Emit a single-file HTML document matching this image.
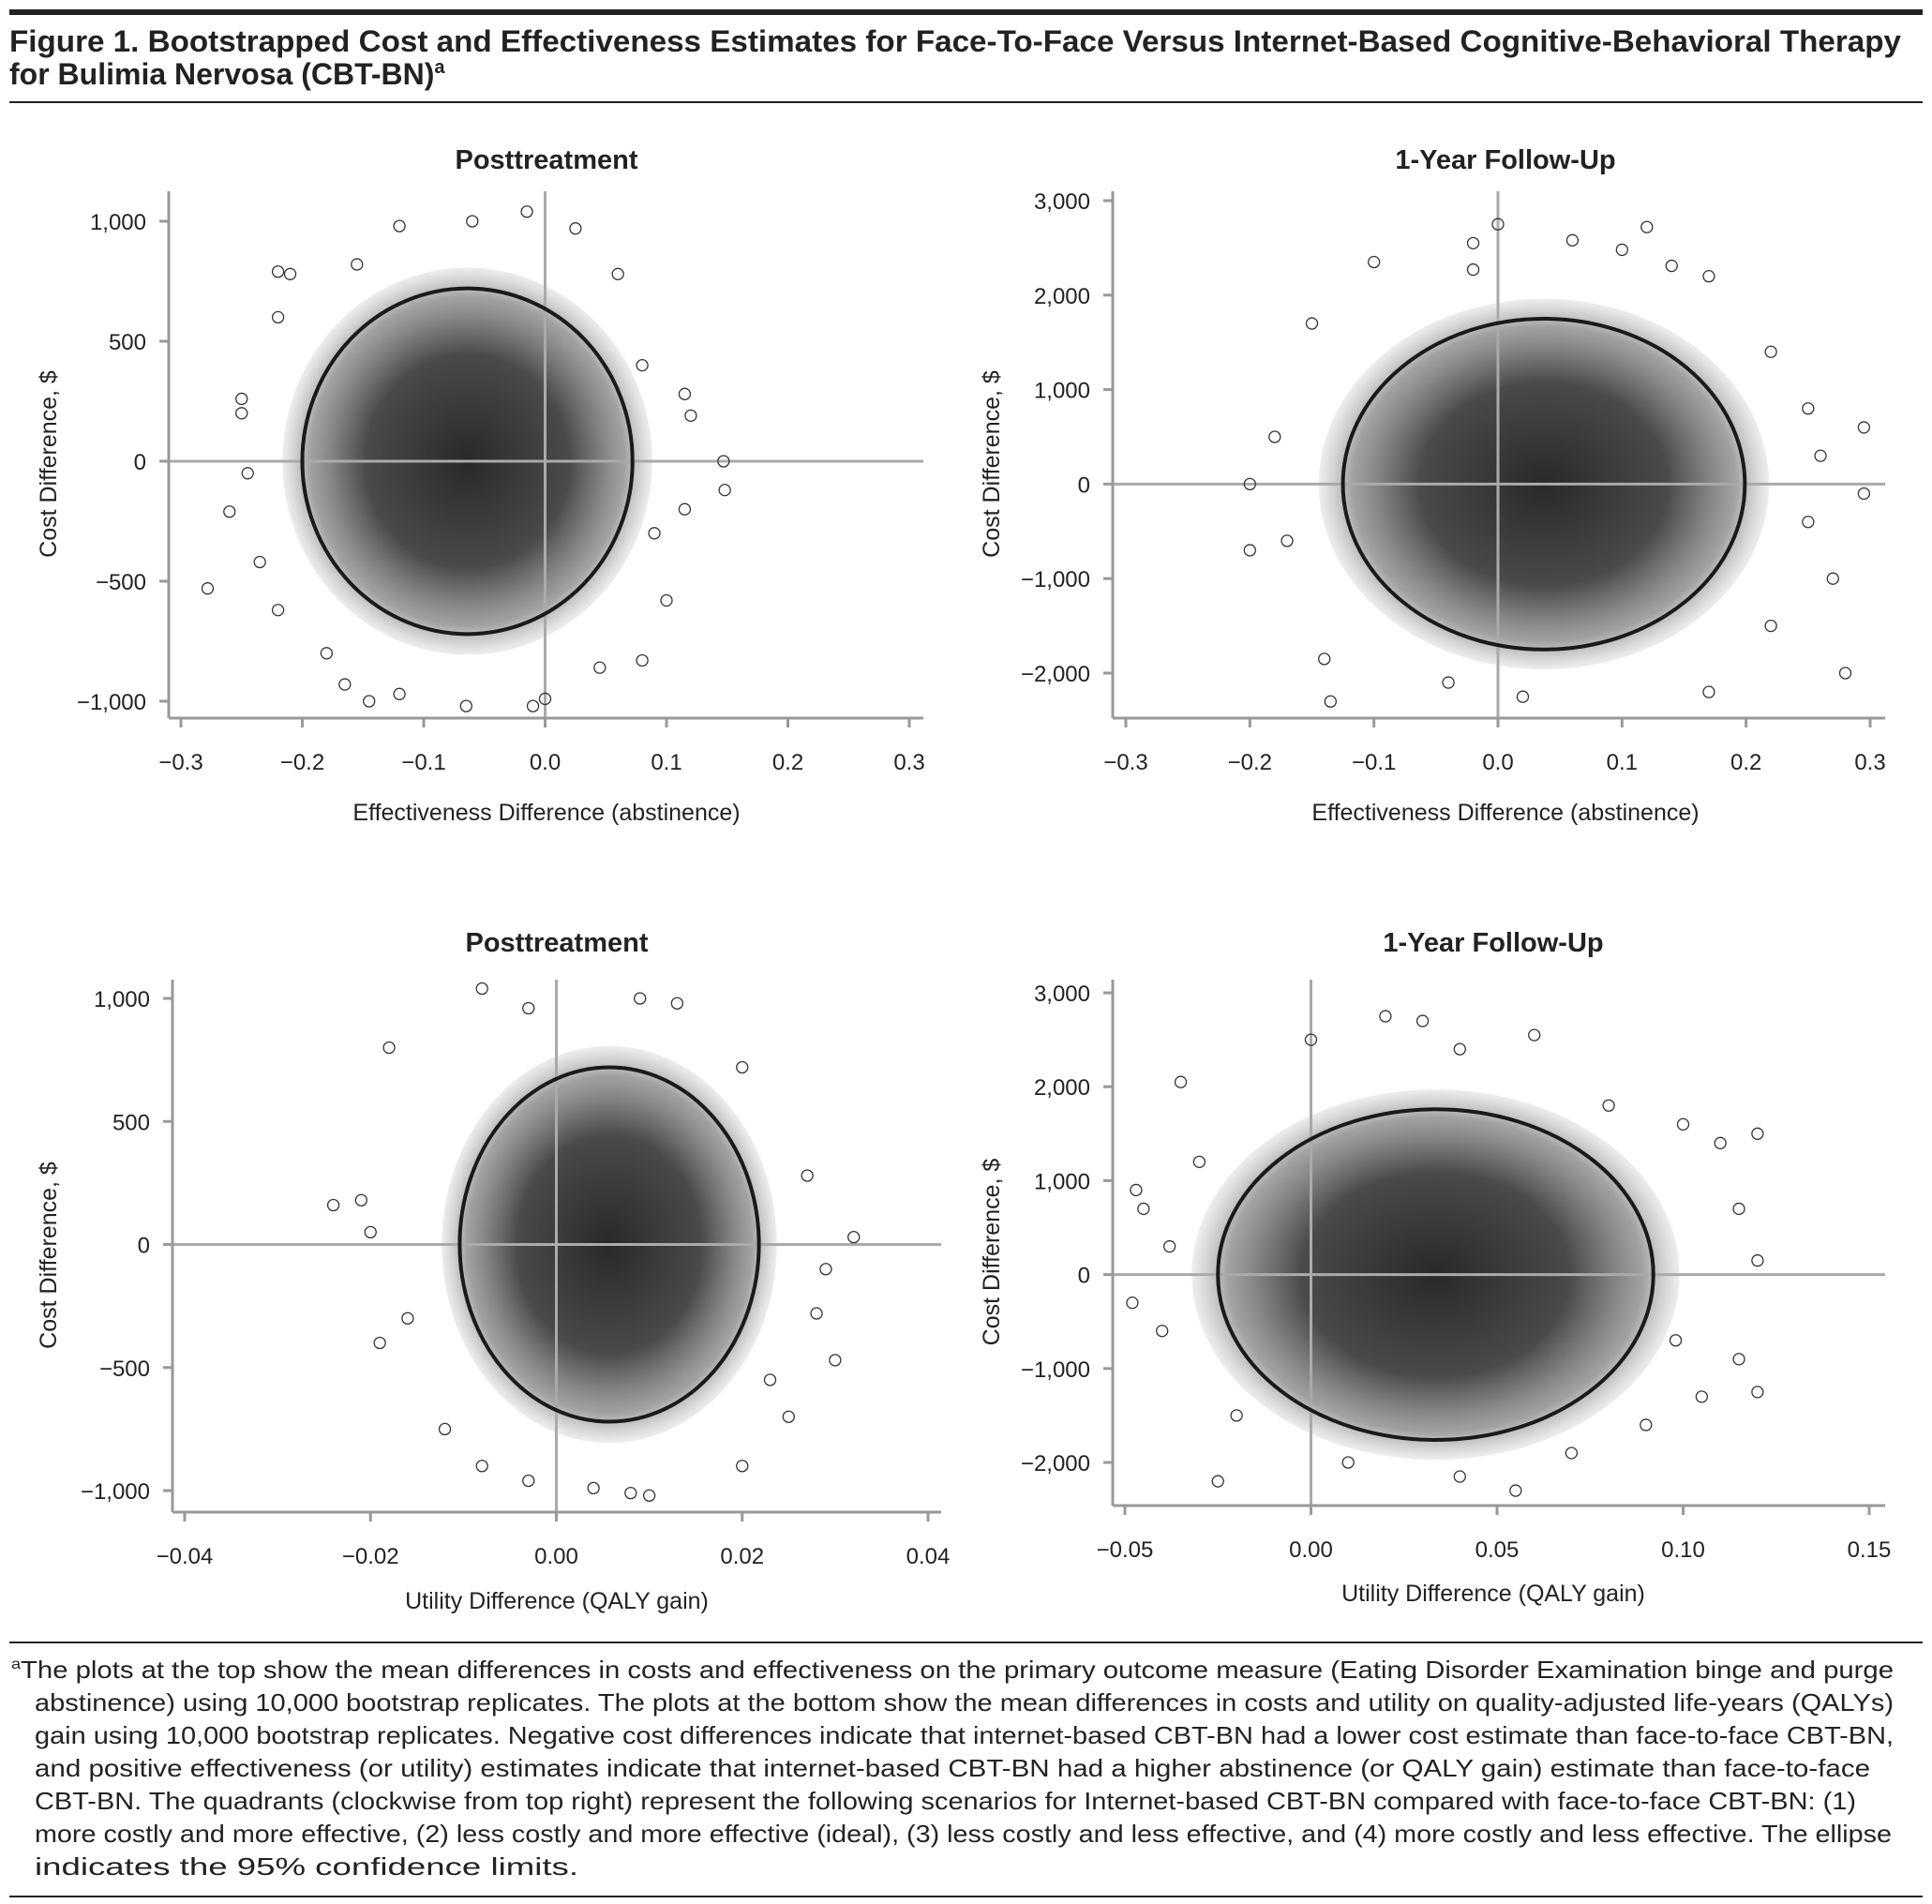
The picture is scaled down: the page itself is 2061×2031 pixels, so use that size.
<!DOCTYPE html>
<html><head><meta charset="utf-8"><style>
html,body{margin:0;padding:0;background:#fff;}
svg{display:block;font-family:"Liberation Sans",sans-serif;}
</style></head><body>
<svg id="fig" width="2061" height="2031" viewBox="0 0 2061 2031" xmlns="http://www.w3.org/2000/svg">
<defs>
<radialGradient id="cloud" cx="50%" cy="50%" r="50%">
<stop offset="0" stop-color="#1e1e1e" stop-opacity="0.95"/>
<stop offset="0.55" stop-color="#2a2a2a" stop-opacity="0.85"/>
<stop offset="0.85" stop-color="#555" stop-opacity="0.55"/>
<stop offset="1" stop-color="#888" stop-opacity="0.15"/>
</radialGradient>
</defs>
<rect x="10" y="10" width="2041" height="6" fill="#222"/>
<text x="10" y="55" font-size="32" font-weight="bold" fill="#222" textLength="2018" lengthAdjust="spacingAndGlyphs">Figure 1. Bootstrapped Cost and Effectiveness Estimates for Face-To-Face Versus Internet-Based Cognitive-Behavioral Therapy</text>
<text x="10" y="90" font-size="32" font-weight="bold" fill="#222">for Bulimia Nervosa (CBT-BN)<tspan font-size="20" dy="-12">a</tspan></text>
<rect x="10" y="108" width="2041" height="2" fill="#222"/>
<g id="panels"></g>
<rect x="10" y="1751" width="2041" height="2" fill="#222"/>
<g font-size="26" fill="#222">
<text x="12" y="1790" textLength="2008" lengthAdjust="spacingAndGlyphs"><tspan font-size="16" dy="-10">a</tspan><tspan dy="10">The plots at the top show the mean differences in costs and effectiveness on the primary outcome measure (Eating Disorder Examination binge and purge</tspan></text>
<text x="37" y="1825" textLength="1983" lengthAdjust="spacingAndGlyphs">abstinence) using 10,000 bootstrap replicates. The plots at the bottom show the mean differences in costs and utility on quality-adjusted life-years (QALYs)</text>
<text x="37" y="1860" textLength="1983" lengthAdjust="spacingAndGlyphs">gain using 10,000 bootstrap replicates. Negative cost differences indicate that internet-based CBT-BN had a lower cost estimate than face-to-face CBT-BN,</text>
<text x="37" y="1895" textLength="1958" lengthAdjust="spacingAndGlyphs">and positive effectiveness (or utility) estimates indicate that internet-based CBT-BN had a higher abstinence (or QALY gain) estimate than face-to-face</text>
<text x="37" y="1930" textLength="1943" lengthAdjust="spacingAndGlyphs">CBT-BN. The quadrants (clockwise from top right) represent the following scenarios for Internet-based CBT-BN compared with face-to-face CBT-BN: (1)</text>
<text x="37" y="1965" textLength="1981" lengthAdjust="spacingAndGlyphs">more costly and more effective, (2) less costly and more effective (ideal), (3) less costly and less effective, and (4) more costly and less effective. The ellipse</text>
<text x="37" y="2000" textLength="580" lengthAdjust="spacingAndGlyphs">indicates the 95% confidence limits.</text>
</g>
<rect x="10" y="2022" width="2041" height="2" fill="#222"/>
</svg>
<script>
// ---- data ----
const tlXTicks=[-0.3,-0.2,-0.1,0.0,0.1,0.2,0.3];
const tlXLabels=["\u22120.3","\u22120.2","\u22120.1","0.0","0.1","0.2","0.3"];
const tlYTicks=[-1000,-500,0,500,1000];
const tlYLabels=["\u22121,000","\u2212500","0","500","1,000"];
const tlEllipse=[-0.064,0,0.136,720];
const tlOutX=[-0.278,-0.22,-0.21,-0.22,-0.25,-0.25,-0.26,-0.235,-0.22,-0.18,-0.165,-0.145,-0.12,-0.065,-0.01,0.0,0.045,0.08,0.1,0.115,0.148,0.147,0.115,0.08,0.06,0.025,-0.015,-0.06,-0.12,-0.155,0.12,-0.245,0.09];
const tlOutY=[-530,790,780,600,200,260,-210,-420,-620,-800,-930,-1000,-970,-1020,-1020,-990,-860,-830,-580,-200,-120,0,280,400,780,970,1040,1000,980,820,190,-50,-300];

const trXTicks=[-0.3,-0.2,-0.1,0.0,0.1,0.2,0.3];
const trXLabels=["\u22120.3","\u22120.2","\u22120.1","0.0","0.1","0.2","0.3"];
const trYTicks=[-2000,-1000,0,1000,2000,3000];
const trYLabels=["\u22122,000","\u22121,000","0","1,000","2,000","3,000"];
const trEllipse=[0.037,0,0.162,1750];
const trOutX=[-0.2,-0.2,-0.17,-0.15,-0.14,-0.135,-0.1,-0.02,-0.02,0.0,0.06,0.1,0.12,0.14,0.17,0.22,0.25,0.295,0.295,0.27,0.28,0.17,0.02,-0.04,0.22,0.25,-0.18,0.26];
const trOutY=[0,-700,-600,1700,-1850,-2300,2350,2550,2270,2750,2580,2480,2720,2310,2200,1400,800,600,-100,-1000,-2000,-2200,-2250,-2100,-1500,-400,500,300];

const blXTicks=[-0.04,-0.02,0.0,0.02,0.04];
const blXLabels=["\u22120.04","\u22120.02","0.00","0.02","0.04"];
const blYTicks=[-1000,-500,0,500,1000];
const blYLabels=["\u22121,000","\u2212500","0","500","1,000"];
const blEllipse=[0.0057,0,0.0161,720];
const blOutX=[-0.024,-0.021,-0.019,-0.018,-0.016,-0.012,-0.008,-0.003,0.004,0.008,0.01,0.02,0.025,0.028,0.032,0.027,0.02,0.013,0.009,-0.008,-0.003,0.03,0.023,-0.02,0.029];
const blOutY=[160,180,-400,800,-300,-750,-900,-960,-990,-1010,-1020,-900,-700,-280,30,280,720,980,1000,1040,960,-470,-550,50,-100];

const brXTicks=[-0.05,0.0,0.05,0.10,0.15];
const brXLabels=["\u22120.05","0.00","0.05","0.10","0.15"];
const brYTicks=[-2000,-1000,0,1000,2000,3000];
const brYLabels=["\u22122,000","\u22121,000","0","1,000","2,000","3,000"];
const brEllipse=[0.0335,0,0.0585,1760];
const brOutX=[-0.048,-0.047,-0.045,-0.04,-0.035,-0.03,-0.025,-0.02,0.0,0.02,0.03,0.06,0.04,0.08,0.1,0.11,0.115,0.12,0.12,0.12,0.115,0.105,0.07,0.055,0.04,0.01,0.09,-0.038,0.098];
const brOutY=[-300,900,700,-600,2050,1200,-2200,-1500,2500,2750,2700,2550,2400,1800,1600,1400,700,1500,150,-1250,-900,-1300,-1900,-2300,-2150,-2000,-1600,300,-700];

const panels=[
 {id:"top-left",title:"Posttreatment",xlab:"Effectiveness Difference (abstinence)",ax:180,top:204,bot:766,right:985,titleY:180,xlabY:875,
  x0:-0.3,x1:0.3,px0:193,px1:970,y0:-1000,y1:1000,py0:748,py1:236,xt:tlXTicks,xl:tlXLabels,yt:tlYTicks,yl:tlYLabels,el:tlEllipse,ox:tlOutX,oy:tlOutY,ylx:52,cx:583},
 {id:"top-right",title:"1-Year Follow-Up",xlab:"Effectiveness Difference (abstinence)",ax:1187,top:204,bot:766,right:2011,titleY:180,xlabY:875,
  x0:-0.3,x1:0.3,px0:1201,px1:1995,y0:-2000,y1:3000,py0:718,py1:214,xt:trXTicks,xl:trXLabels,yt:trYTicks,yl:trYLabels,el:trEllipse,ox:trOutX,oy:trOutY,ylx:1058,cx:1606},
 {id:"bottom-left",title:"Posttreatment",xlab:"Utility Difference (QALY gain)",ax:184,top:1045,bot:1613,right:1004,titleY:1015,xlabY:1716,
  x0:-0.04,x1:0.04,px0:197,px1:990,y0:-1000,y1:1000,py0:1590,py1:1065,xt:blXTicks,xl:blXLabels,yt:blYTicks,yl:blYLabels,el:blEllipse,ox:blOutX,oy:blOutY,ylx:52,cx:594},
 {id:"bottom-right",title:"1-Year Follow-Up",xlab:"Utility Difference (QALY gain)",ax:1187,top:1045,bot:1606,right:2011,titleY:1015,xlabY:1708,
  x0:-0.05,x1:0.15,px0:1200,px1:1994,y0:-2000,y1:3000,py0:1560,py1:1059,xt:brXTicks,xl:brXLabels,yt:brYTicks,yl:brYLabels,el:brEllipse,ox:brOutX,oy:brOutY,ylx:1058,cx:1593}
];
const NS="http://www.w3.org/2000/svg";
const root=document.getElementById("panels");
function mk(tag,attrs,parent){const e=document.createElementNS(NS,tag);for(const k in attrs)e.setAttribute(k,attrs[k]);parent.appendChild(e);return e;}
panels.forEach(p=>{
 const sx=v=>p.px0+(v-p.x0)/(p.x1-p.x0)*(p.px1-p.px0);
 const sy=v=>p.py0+(v-p.y0)/(p.y1-p.y0)*(p.py1-p.py0);
 const g=mk("g",{},root);
 
 
 const t=mk("text",{x:p.cx,y:p.titleY,"text-anchor":"middle","font-size":"29","font-weight":"bold",fill:"#222"},g);t.textContent=p.title;
 
 
 const e=p.el;
 const rx=Math.abs(sx(e[0]+e[2])-sx(e[0])), ry=Math.abs(sy(e[1]+e[3])-sy(e[1]));
 const c=mk("ellipse",{cx:sx(e[0]),cy:sy(e[1]),rx:rx*1.12,ry:ry*1.12,fill:"url(#cloud)"},g);
 
 
 const zl=mk("line",{x1:sx(0),x2:sx(0),y1:p.top,y2:p.bot,stroke:"#aaa","stroke-width":3},g);
 
 
 const zh=mk("line",{x1:p.ax,x2:p.right,y1:sy(0),y2:sy(0),stroke:"#aaa","stroke-width":3},g);
 
 
 p.ox.forEach((v,i)=>{
  const pt=mk("circle",{cx:sx(v),cy:sy(p.oy[i]),r:6,fill:"none",stroke:"#333","stroke-width":1.3},g);
  
  
 });
 const ce=mk("ellipse",{cx:sx(e[0]),cy:sy(e[1]),rx:rx,ry:ry,fill:"none",stroke:"#1a1a1a","stroke-width":4},g);
 
 
 const ya=mk("line",{x1:p.ax,x2:p.ax,y1:p.top,y2:p.bot,stroke:"#999","stroke-width":3},g);
 
 
 const xa=mk("line",{x1:p.ax,x2:p.right,y1:p.bot,y2:p.bot,stroke:"#999","stroke-width":3},g);
 
 
 p.xt.forEach((v,i)=>{
  const x=sx(v);
  const tk=mk("line",{x1:x,x2:x,y1:p.bot,y2:p.bot+10,stroke:"#999","stroke-width":3},g);
  
  
  const tl=mk("text",{x:x,y:p.bot+55,"text-anchor":"middle","font-size":"24",fill:"#222"},g);tl.textContent=p.xl[i];
  
  
 });
 p.yt.forEach((v,i)=>{
  const y=sy(v);
  const tk=mk("line",{x1:p.ax-10,x2:p.ax,y1:y,y2:y,stroke:"#999","stroke-width":3},g);
  
  
  const tl=mk("text",{x:p.ax-24,y:y+9,"text-anchor":"end","font-size":"24",fill:"#222"},g);tl.textContent=p.yl[i];
  
  
 });
 const xl=mk("text",{x:p.cx,y:p.xlabY,"text-anchor":"middle","font-size":"25",fill:"#222"},g);xl.textContent=p.xlab;
 
 
 const ymid=(p.top+p.bot)/2+10;
 const yl=mk("text",{x:p.ylx,y:ymid,"text-anchor":"middle","font-size":"25",fill:"#222",transform:`rotate(-90 ${p.ylx} ${ymid})`,dy:"8"},g);yl.textContent="Cost Difference, $";
 
 
});
</script>
</body></html>
